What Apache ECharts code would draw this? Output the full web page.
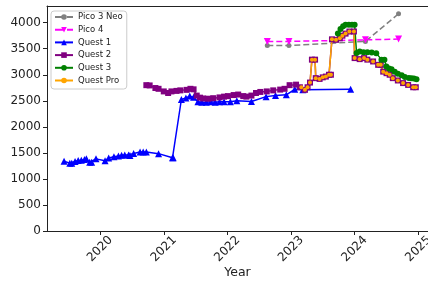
<!DOCTYPE html>
<html>
<head>
<meta charset="utf-8" />
<title></title>
<script src="https://cdn.jsdelivr.net/npm/echarts@6/dist/echarts.min.js"></script>
<style>
html, body { margin: 0; padding: 0; background: #fff; }
#chart { width: 428px; height: 281px; }
</style>
</head>
<body>
<div id="chart"></div>
<script type="text/javascript">
// data
var yearLabels = [2020, 2021, 2022, 2023, 2024, 2025];
var yTicks = [0, 500, 1000, 1500, 2000, 2500, 3000, 3500, 4000];

var pico3NeoDates = ['2022-08-18', '2022-12-20', '2024-03-03', '2024-09-09'];
var pico3NeoValues = [3560, 3560, 3640, 4170];

var pico4Dates = ['2022-08-18', '2022-12-20', '2024-03-03', '2024-09-09'];
var pico4Values = [3640, 3640, 3670, 3685];

var quest1Dates = ['2019-06-09', '2019-07-12', '2019-07-23', '2019-08-11', '2019-08-29', '2019-09-16',
  '2019-10-04', '2019-10-15', '2019-11-03', '2019-11-14', '2019-12-09', '2020-01-30', '2020-02-20',
  '2020-03-21', '2020-04-16', '2020-05-04', '2020-05-22', '2020-06-13', '2020-06-21', '2020-07-12',
  '2020-08-18', '2020-09-05', '2020-09-23', '2020-12-02', '2021-02-20', '2021-02-24', '2021-04-12',
  '2021-05-08', '2021-05-30', '2021-06-21', '2021-07-16', '2021-08-07', '2021-09-02', '2021-09-27',
  '2021-10-23', '2021-11-17', '2021-12-13', '2022-01-18', '2022-02-24', '2022-05-19', '2022-08-11',
  '2022-10-04', '2022-12-05', '2023-01-22', '2023-03-10', '2023-12-09'];
var quest1Values = [1340, 1300, 1300, 1335, 1355, 1360,
  1375, 1385, 1320, 1320, 1385, 1350, 1400,
  1425, 1440, 1455, 1460, 1460, 1450, 1490,
  1515, 1515, 1515, 1485, 1405, 1405, 2525,
  2555, 2590, 2570, 2480, 2470, 2470, 2480,
  2470, 2480, 2480, 2480, 2500, 2485, 2580,
  2600, 2615, 2720, 2710, 2720];

var quest2Dates = ['2020-09-23', '2020-10-12', '2020-11-14', '2020-12-02', '2021-01-01', '2021-01-26',
  '2021-02-14', '2021-03-15', '2021-04-06', '2021-05-12', '2021-06-03', '2021-06-21', '2021-07-09',
  '2021-07-28', '2021-08-15', '2021-09-13', '2021-10-12', '2021-11-17', '2021-12-13', '2022-01-04',
  '2022-02-06', '2022-03-04', '2022-04-02', '2022-04-20', '2022-05-19', '2022-06-14', '2022-07-09',
  '2022-08-15', '2022-09-21', '2022-10-31', '2022-11-25', '2022-12-24', '2023-01-30', '2023-02-21',
  '2023-03-22', '2023-04-06', '2023-04-20', '2023-05-01', '2023-05-19', '2023-05-23', '2023-06-14',
  '2023-07-02', '2023-07-20', '2023-08-07', '2023-08-18', '2023-08-24', '2023-09-16', '2023-10-08',
  '2023-10-23', '2023-11-10', '2023-12-02', '2023-12-28', '2024-01-01', '2024-01-30', '2024-02-24',
  '2024-03-14', '2024-04-16', '2024-05-15', '2024-05-30', '2024-06-13', '2024-07-02', '2024-07-20',
  '2024-08-07', '2024-09-05', '2024-10-05', '2024-11-03', '2024-12-02', '2024-12-17'];
var quest2Values = [2800, 2795, 2745, 2730, 2680, 2650,
  2680, 2690, 2700, 2710, 2730, 2720, 2600,
  2560, 2545, 2540, 2550, 2565, 2580, 2590,
  2610, 2620, 2590, 2580, 2600, 2650, 2670,
  2680, 2700, 2715, 2730, 2800, 2810, 2760,
  2710, 2760, 2850, 3290, 3290, 2935, 2920,
  2950, 2965, 3000, 3000, 3680, 3670, 3700,
  3750, 3790, 3830, 3830, 3320, 3300, 3320,
  3290, 3255, 3190, 3190, 3060, 3030, 3000,
  2935, 2890, 2840, 2805, 2760, 2760];

var quest3Dates = ['2023-09-27', '2023-10-12', '2023-10-27', '2023-11-10', '2023-11-29', '2023-12-17',
  '2024-01-01', '2024-01-12', '2024-01-30', '2024-02-21', '2024-03-14', '2024-04-08', '2024-05-04',
  '2024-06-03', '2024-06-20', '2024-07-01', '2024-07-16', '2024-07-31', '2024-08-18', '2024-09-05',
  '2024-09-27', '2024-10-15', '2024-11-07', '2024-11-22', '2024-12-06', '2024-12-21'];
var quest3Values = [3790, 3880, 3930, 3960, 3960, 3960,
  3960, 3420, 3445, 3430, 3430, 3425, 3415,
  3290, 3290, 3160, 3120, 3105, 3060, 3020,
  2990, 2955, 2940, 2935, 2930, 2915];

var questProDates = ['2023-03-01', '2023-03-22', '2023-04-06', '2023-04-20', '2023-05-01', '2023-05-19',
  '2023-05-23', '2023-06-14', '2023-07-02', '2023-07-20', '2023-08-07', '2023-08-18', '2023-08-24',
  '2023-09-16', '2023-10-08', '2023-10-23', '2023-11-10', '2023-12-02', '2023-12-28', '2024-01-01',
  '2024-01-30', '2024-02-24', '2024-03-14', '2024-04-16', '2024-05-15', '2024-05-30', '2024-06-13',
  '2024-07-02', '2024-07-20', '2024-08-07', '2024-09-05', '2024-10-05', '2024-11-03', '2024-12-02',
  '2024-12-17'];
var questProValues = [2760, 2710, 2760, 2850, 3290, 3290,
  2935, 2920, 2950, 2965, 3000, 3000, 3680,
  3670, 3700, 3750, 3790, 3830, 3830, 3320,
  3300, 3320, 3290, 3255, 3190, 3190, 3060,
  3030, 3000, 2935, 2890, 2840, 2805, 2760,
  2760];

function toTime(d) {
  var p = d.split('-');
  return new Date(+p[0], +p[1] - 1, +p[2]).getTime();
}
function pairs(dates, values) {
  return dates.map(function (d, i) { return [toTime(d), values[i]]; });
}

var yearTicks = yearLabels.map(function (y) { return new Date(y, 0, 1).getTime(); });
var xMin = toTime('2019-03-03');
var xMax = toTime('2025-02-25');

var myChart = echarts.init(document.getElementById('chart'));

var series = [
  { name: 'Pico 3 Neo', color: '#808080', dash: 'dashed', symbol: 'circle', size: 5, rot: 0, dates: pico3NeoDates, values: pico3NeoValues },
  { name: 'Pico 4', color: '#ff00ff', dash: 'dashed', symbol: 'triangle', size: 7, rot: 180, dates: pico4Dates, values: pico4Values },
  { name: 'Quest 1', color: '#0000ff', dash: 'solid', symbol: 'triangle', size: 7, rot: 0, dates: quest1Dates, values: quest1Values },
  { name: 'Quest 2', color: '#800080', dash: 'solid', symbol: 'rect', size: 6, rot: 0, dates: quest2Dates, values: quest2Values },
  { name: 'Quest 3', color: '#008000', dash: 'solid', symbol: 'circle', size: 6, rot: 0, dates: quest3Dates, values: quest3Values },
  { name: 'Quest Pro', color: '#ffa500', dash: 'solid', symbol: 'circle', size: 4, rot: 0, dates: questProDates, values: questProValues }
].map(function (s) {
  return {
    name: s.name,
    type: 'line',
    data: pairs(s.dates, s.values),
    symbol: s.symbol,
    symbolSize: s.size,
    symbolRotate: s.rot,
    showAllSymbol: true,
    animation: false,
    itemStyle: { color: s.color },
    lineStyle: { color: s.color, width: 1.5, type: s.dash }
  };
});

myChart.setOption({
  animation: false,
  textStyle: { fontFamily: 'DejaVu Sans' },
  grid: { left: 47, top: 6, bottom: 50, right: 0, show: false, outerBoundsMode: 'none', containLabel: false },
  legend: {
    orient: 'vertical',
    left: 51, top: 11,
    padding: [1.5, 4, 4, 3],
    itemWidth: 18, itemHeight: 7, itemGap: 3.7,
    borderColor: '#ccc', borderWidth: 1, borderRadius: 3,
    backgroundColor: '#fff',
    textStyle: { fontSize: 8.5, color: '#222' },
    data: ['Pico 3 Neo', 'Pico 4', 'Quest 1', 'Quest 2', 'Quest 3', 'Quest Pro']
  },
  xAxis: [{
    type: 'value',
    min: xMin,
    max: xMax,
    name: 'Year',
    nameLocation: 'middle',
    nameGap: 35,
    nameMoveOverlap: false,
    nameTextStyle: { fontSize: 12.5, color: '#222' },
    axisLine: { lineStyle: { color: '#222', width: 1 } },
    axisTick: { show: true, length: 4, lineStyle: { color: '#222' }, customValues: yearTicks },
    axisLabel: {
      customValues: yearTicks,
      formatter: function (v) { return String(new Date(v).getFullYear()); },
      rotate: 45, align: 'center', verticalAlign: 'middle', margin: 18,
      fontSize: 12, color: '#222'
    },
    splitLine: { show: false }
  }, {
    // top spine only
    type: 'value',
    position: 'top',
    min: xMin,
    max: xMax,
    axisLine: { show: true, lineStyle: { color: '#222', width: 1 } },
    axisTick: { show: false },
    axisLabel: { show: false },
    splitLine: { show: false }
  }],
  yAxis: {
    type: 'value',
    min: 0,
    max: 4320,
    axisLine: { show: true, lineStyle: { color: '#222', width: 1 } },
    axisTick: { show: true, length: 4, lineStyle: { color: '#222' }, customValues: yTicks },
    axisLabel: {
      customValues: yTicks, fontSize: 12, color: '#222', margin: 6,
      formatter: function (v) { return String(v); }
    },
    splitLine: { show: false }
  },
  series: series
});
</script>
</body>
</html>
